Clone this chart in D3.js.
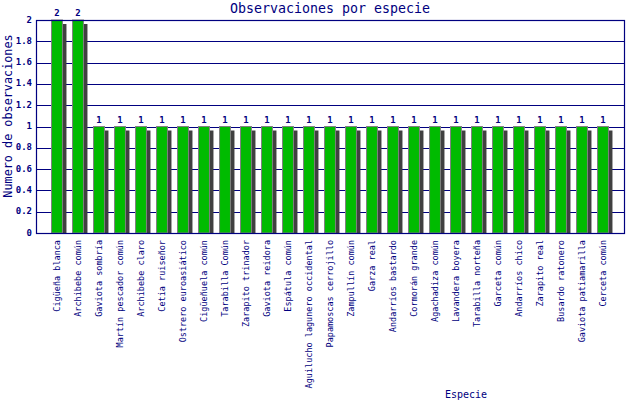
<!DOCTYPE html>
<html>
<head>
<meta charset="utf-8">
<script src="https://cdn.jsdelivr.net/npm/d3@7"></script>
<style>
  body { margin: 0; background: white; }
  text { font-family: "DejaVu Sans Mono", monospace; fill: #000080; }
</style>
</head>
<body>
<div id="chart"></div>
<script>
// species observed and number of observations
const species = [
  'Cigüeña blanca', 'Archibebe común', 'Gaviota sombría', 'Martín pescador común',
  'Archibebe claro', 'Cetia ruiseñor', 'Ostrero euroasiático', 'Cigüeñuela común',
  'Tarabilla Común', 'Zarapito trinador', 'Gaviota reidora', 'Espátula común',
  'Aguilucho lagunero occidental', 'Papamoscas cerrojillo', 'Zampullín común', 'Garza real',
  'Andarríos bastardo', 'Cormorán grande', 'Agachadiza común', 'Lavandera boyera',
  'Tarabilla norteña', 'Garceta común', 'Andarríos chico', 'Zarapito real',
  'Busardo ratonero', 'Gaviota patiamarilla', 'Cerceta común'
]
const counts = [2, 2, 1, 1, 1, 1, 1, 1, 1, 1, 1, 1, 1, 1, 1, 1, 1, 1, 1, 1, 1, 1, 1, 1, 1, 1, 1]
const yTicks = [0, 0.2, 0.4, 0.6, 0.8, 1, 1.2, 1.4, 1.6, 1.8, 2]
const yTickLabels = ['0', '0.2', '0.4', '0.6', '0.8', '1', '1.2', '1.4', '1.6', '1.8', '2']

const navy = '#000080'
const totalWidth = 640
const totalHeight = 400
const margin = { top: 20, bottom: 167, left: 36, right: 16 }
const width = totalWidth - margin.left - margin.right
const height = totalHeight - margin.top - margin.bottom

let svg = d3.select('#chart')
  .append('svg')
  .attr('width', totalWidth)
  .attr('height', totalHeight)

let x = d3.scaleBand()
  .domain(species)
  .range([margin.left, margin.left + width])
  .paddingInner(0)
  .paddingOuter(0.5)

let y = d3.scaleLinear()
  .domain([0, 2])
  .range([margin.top + height, margin.top])

// grid lines
svg.append('g')
  .selectAll('line')
  .data(yTicks)
  .enter()
  .append('line')
  .attr('x1', margin.left)
  .attr('x2', margin.left + width)
  .attr('y1', d => Math.round(y(d)) + 0.5)
  .attr('y2', d => Math.round(y(d)) + 0.5)
  .attr('stroke', navy)
  .attr('stroke-width', 1.2)

// y tick labels
svg.append('g')
  .selectAll('text')
  .data(yTicks)
  .enter()
  .append('text')
  .attr('x', margin.left - 4)
  .attr('y', d => y(d))
  .attr('dominant-baseline', 'middle')
  .attr('text-anchor', 'end')
  .style('font-size', '9px')
  .style('font-weight', 'bold')
  .text((d, i) => yTickLabels[i])

const barW = x.bandwidth() * 0.52
const shadow = 4

let bars = svg.append('g')
  .selectAll('g')
  .data(species)
  .enter()
  .append('g')

// shadow
bars.append('rect')
  .attr('x', d => x(d) + x.bandwidth() / 2 - barW / 2 + shadow)
  .attr('y', (d, i) => y(counts[i]) + shadow)
  .attr('width', barW)
  .attr('height', (d, i) => y(0) - y(counts[i]) - shadow)
  .attr('fill', '#404040')

// bar
bars.append('rect')
  .attr('x', d => x(d) + x.bandwidth() / 2 - barW / 2)
  .attr('y', (d, i) => y(counts[i]))
  .attr('width', barW)
  .attr('height', (d, i) => y(0) - y(counts[i]))
  .attr('fill', '#00bb00')
  .attr('stroke', '#808080')
  .attr('stroke-width', 1)

// value labels
bars.append('text')
  .attr('x', d => x(d) + x.bandwidth() / 2)
  .attr('y', (d, i) => y(counts[i]) - 4)
  .attr('text-anchor', 'middle')
  .style('font-size', '9px')
  .style('font-weight', 'bold')
  .text((d, i) => counts[i])

// frame
svg.append('rect')
  .attr('x', margin.left + 0.5)
  .attr('y', margin.top + 0.5)
  .attr('width', width)
  .attr('height', height)
  .attr('fill', 'none')
  .attr('stroke', navy)
  .attr('stroke-width', 1.2)

// category labels
svg.append('g')
  .selectAll('text')
  .data(species)
  .enter()
  .append('text')
  .attr('transform', d => `translate(${x(d) + x.bandwidth() / 2 + 3}, ${margin.top + height + 7}) rotate(-90)`)
  .attr('text-anchor', 'end')
  .style('font-size', '8.5px')
  .text(d => d)

// titles
svg.append('text')
  .attr('x', margin.left + width / 2)
  .attr('y', 13)
  .attr('text-anchor', 'middle')
  .style('font-size', '13.3px')
  .text('Observaciones por especie')

svg.append('text')
  .attr('transform', `translate(12, 116) rotate(-90)`)
  .attr('text-anchor', 'middle')
  .style('font-size', '11.8px')
  .text('Numero de observaciones')

svg.append('text')
  .attr('x', 466)
  .attr('y', 398)
  .attr('text-anchor', 'middle')
  .style('font-size', '10px')
  .text('Especie')
</script>
</body>
</html>
